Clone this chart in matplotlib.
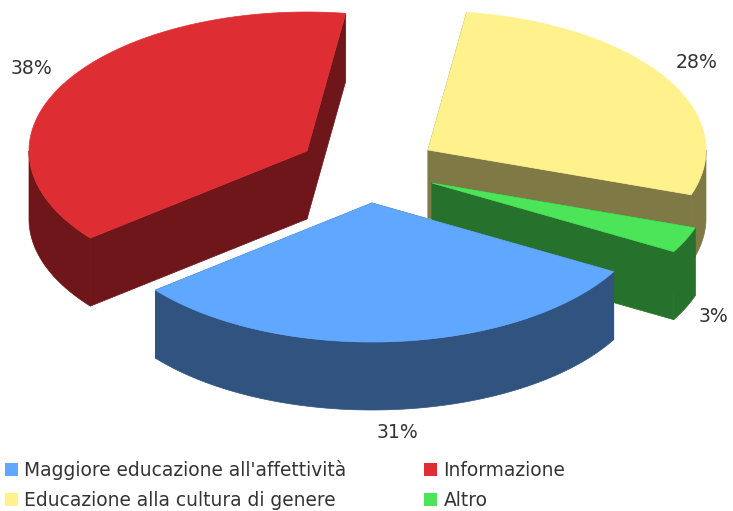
import numpy as np
import matplotlib
matplotlib.use("Agg")
import matplotlib.pyplot as plt
from matplotlib.patches import Polygon, Rectangle

categories = ["Educazione alla cultura di genere", "Altro",
              "Maggiore educazione all'affettività", "Informazione"]
values = [28, 3, 31, 38]
pct_labels = ["28%", "3%", "31%", "38%"]

colors = ["#FFF28C", "#4CE458", "#60A8FF", "#DE2E33"]
dark_colors = ["#7F7946", "#26722C", "#30547F", "#6E1619"]
apexes = [(428, 150), (432, 183), (372, 203), (307, 151)]
label_pos = [(697, 62), (714, 317), (398, 433), (31, 68)]
draw_order = [0, 1, 3, 2]

RX, RY, DEPTH = 278, 139, 68
START = 8.0


def ellipse_points(apex, a0, a1):
    # angles in degrees, clockwise from the top
    t = np.radians(np.linspace(a0, a1, 200))
    return np.column_stack([apex[0] + RX * np.sin(t), apex[1] - RY * np.cos(t)])


fig = plt.figure(figsize=(7.33, 5.11), dpi=100)
ax = fig.add_axes([0, 0, 1, 1])
ax.set_xlim(0, 733)
ax.set_ylim(511, 0)
ax.axis("off")

edges = START + np.concatenate([[0], np.cumsum(values)]) * 360 / sum(values)

for i in draw_order:
    a0, a1 = edges[i], edges[i + 1]
    apex = apexes[i]
    arc = ellipse_points(apex, a0, a1)
    shift = np.array([0, DEPTH])
    col = dark_colors[i]
    walls = []
    for p in (arc[0], arc[-1]):
        walls.append(np.array([apex, p, p + shift, np.array(apex) + shift]))
    # outer wall only where the rim faces the viewer (90..270 deg)
    lo, hi = max(a0, 90), min(a1, 270)
    if hi > lo:
        rim = ellipse_points(apex, lo, hi)
        walls.append(np.vstack([rim, (rim + shift)[::-1]]))
    for w in walls:
        ax.add_patch(Polygon(w, closed=True, fc=col, ec=col, lw=0.5))
    ax.add_patch(Polygon(np.vstack([apex, arc]), closed=True,
                         fc=colors[i], ec=colors[i], lw=0.5))

for lab, (x, y) in zip(pct_labels, label_pos):
    ax.text(x, y, lab, fontsize=13.6, color="#333333", ha="center", va="center",
            family="DejaVu Sans")

legend_order = [2, 3, 0, 1]
legend_pos = [(5, 470), (424, 470), (5, 500), (424, 500)]
for i, (x, y) in zip(legend_order, legend_pos):
    ax.add_patch(Rectangle((x, y - 7), 13, 13, fc=colors[i], ec="none"))
    ax.text(x + 19.5, y, categories[i], fontsize=13.4, color="#333333", va="center",
            family="DejaVu Sans")

fig.savefig("out.png", dpi=100)
